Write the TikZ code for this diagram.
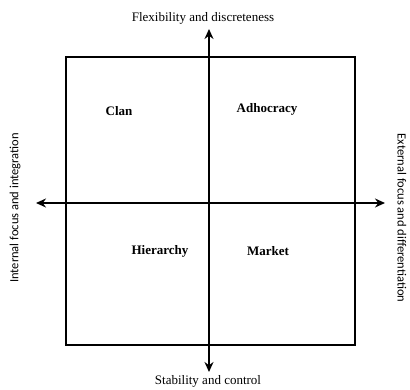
\documentclass[tikz,border=0pt]{standalone}
\usepackage{fontspec}
\setmainfont{Liberation Serif}
\newfontfamily\sidefont{Carlito}
\usetikzlibrary{arrows.meta}
\begin{document}
\begin{tikzpicture}[x=1pt,y=-1pt,
  axis/.style={line width=1.5pt,-{Stealth[length=10pt,width=9pt]}},
  frame/.style={line width=1.2pt},
  quad/.style={font=\fontsize{13}{15}\selectfont\bfseries},
  axlabel/.style={font=\fontsize{13}{15}\selectfont},
  sidelabel/.style={font=\sidefont\fontsize{12.5}{14}\selectfont,inner sep=1pt}]
\useasboundingbox[fill=white] (0,0) rectangle (410,390);
\node[frame,draw,minimum width=289pt,minimum height=288pt,inner sep=0pt] (box) at (210.5,201) {};
\coordinate (c) at (209,203);
\coordinate (top) at (209,29);
\coordinate (bot) at (209,372);
\coordinate (lft) at (36,203);
\coordinate (rgt) at (385,203);
\draw[axis] (c) -- (top);
\draw[axis] (c) -- (bot);
\draw[axis] (c) -- (lft);
\draw[axis] (c) -- (rgt);
\node[axlabel] (flex) at (203,18) {Flexibility and discreteness};
\node[axlabel] (stab) at (208,381) {Stability and control};
\node[sidelabel,rotate=90] (int) at (15,208) {Internal focus and integration};
\node[sidelabel,rotate=-90] (ext) at (402,218) {External focus and differentiation};
\node[quad] (clan) at (119,111) {Clan};
\node[quad] (adho) at (267,109) {Adhocracy};
\node[quad] (hier) at (160,251) {Hierarchy};
\node[quad] (mark) at (268,251) {Market};
\end{tikzpicture}
\end{document}
